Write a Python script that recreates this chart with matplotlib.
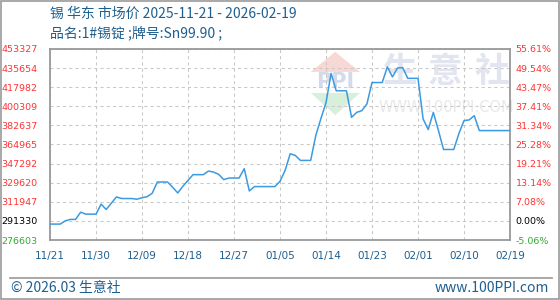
import matplotlib.pyplot as plt
import numpy as np
from matplotlib.patches import Polygon, Rectangle
from matplotlib.lines import Line2D

plt.rcParams['font.family'] = ['Noto Sans CJK SC', 'DejaVu Sans']

# 数据
title = '锡 华东 市场价 2025-11-21 - 2026-02-19'
subtitle = '品名:1#锡锭 ;牌号:Sn99.90 ;'
date_labels = ['11/21', '11/30', '12/09', '12/18', '12/27', '01/05',
               '01/14', '01/23', '02/01', '02/10', '02/19']
# 每日价格 11/21 ~ 02/19 (91天)
prices = [291330, 291330, 291330, 294370, 295660, 295660, 302370, 300530, 300530, 300530,
          309740, 304860, 310660, 316460, 314980, 314980, 314980, 314340, 315720, 316640,
          319860, 330260, 330260, 330260, 325380, 320140, 326310, 331830, 337070, 337070,
          337070, 340390, 339470, 337350, 332470, 333940, 333940, 333940, 342600, 321980,
          326030, 326030, 326030, 326030, 326030, 330910, 341030, 356400, 354840, 350240,
          350240, 350240, 373250, 388890, 403620, 430770, 414660, 414660, 414660, 390090,
          394690, 396260, 402420, 422300, 422300, 422300, 436750, 427550, 435830, 436110,
          426170, 426170, 426170, 388620, 378770, 394690, 377850, 360360, 360360, 360360,
          375090, 387050, 387700, 391650, 377850, 377850, 377850, 377850, 377850, 377850,
          377850]
y_min, y_max = 276603, 453327
left_labels = ['453327', '435654', '417982', '400309', '382637', '364965',
               '347292', '329620', '311947', '291330', '276603']
right_labels = ['55.61%', '49.54%', '43.47%', '37.41%', '31.34%', '25.28%',
                '19.21%', '13.14%', '7.08%', '0.00%', '-5.06%']

blue = '#1f5f8f'
days = np.arange(len(prices))

fig = plt.figure(figsize=(5.6, 3.0), dpi=100)
ax = fig.add_axes([50/560, 60/300, 460/560, 191/300])

# 水印
wm = dict(transform=ax.transAxes, zorder=0)
ax.add_patch(Polygon([[0.567, 0.88], [0.674, 0.88], [0.62, 0.985]], closed=True,
                     fc='#f7d8d4', ec='none', **wm))
ax.add_patch(Polygon([[0.567, 0.77], [0.674, 0.77], [0.62, 0.654]], closed=True,
                     fc='#d8efdb', ec='none', **wm))
ax.text(0.62, 0.825, 'PPI', ha='center', va='center', fontsize=15, fontweight='bold',
        color='#d5daea', family='DejaVu Sans', **wm)
for ch, fx in zip('生意社', [0.761, 0.859, 0.961]):
    ax.text(fx, 0.88, ch, ha='center', va='center', fontsize=25, fontweight='bold',
            color='#e2e5ef', **wm)
ax.text(0.862, 0.696, 'WWW.100PPI.COM', ha='center', va='center', fontsize=10.5,
        color='#e8e8e8', family='DejaVu Sans', **wm)

ax.plot(days, prices, color='#3b9ae1', lw=1.1, zorder=3)

ax.set_xlim(0, len(prices) - 1)
ax.set_ylim(y_min, y_max)
ax.set_xticks(np.linspace(0, len(prices) - 1, len(date_labels)))
ax.set_xticklabels(date_labels, fontsize=7.5, color=blue, family='DejaVu Sans')
yt = np.linspace(y_max, y_min, len(left_labels))
ax.set_yticks(yt)
ax.set_yticklabels(left_labels, fontsize=6.8, family='DejaVu Sans')
ax.tick_params(axis='both', length=0)
ax.tick_params(axis='x', pad=8)
ax.tick_params(axis='y', pad=9)
ax.grid(True, color='#c8c8c8', lw=0.75, linestyle=(0, (3, 3)))
for s in ax.spines.values():
    s.set_color('#999999')
    s.set_linewidth(1.3)

ax2 = ax.twinx()
ax2.set_ylim(y_min, y_max)
ax2.set_yticks(yt)
ax2.set_yticklabels(right_labels, fontsize=6.8, family='DejaVu Sans')
ax2.tick_params(axis='y', length=0, pad=4)
for s in ax2.spines.values():
    s.set_visible(False)

n = len(left_labels)
for i, (l1, l2) in enumerate(zip(ax.get_yticklabels(), ax2.get_yticklabels())):
    c = '#ff3333' if i < n - 2 else ('#000000' if i == n - 2 else '#33aa33')
    l1.set_color(c)
    l2.set_color(c)

fig.text(50/560, 1 - 14/300, title, fontsize=10, color=blue, va='center', ha='left')
fig.text(50/560, 1 - 33/300, subtitle, fontsize=10, color=blue, va='center', ha='left')

fig.add_artist(Line2D([10/560, 552/560], [1 - 277.5/300, 1 - 277.5/300],
                      color='#999999', lw=1.2, transform=fig.transFigure))
fig.text(11/560, 1 - 288/300, '© 2026.03 生意社', fontsize=10, color=blue,
         va='center', ha='left')
fig.text(549/560, 1 - 288/300, 'www.100PPI.com', fontsize=10, color=blue,
         va='center', ha='right')
fig.add_artist(Rectangle((0.001, 0.002), 0.997, 0.996, fill=False, ec='#999999',
                         lw=1.2, transform=fig.transFigure))

fig.savefig('out.png', dpi=100)
